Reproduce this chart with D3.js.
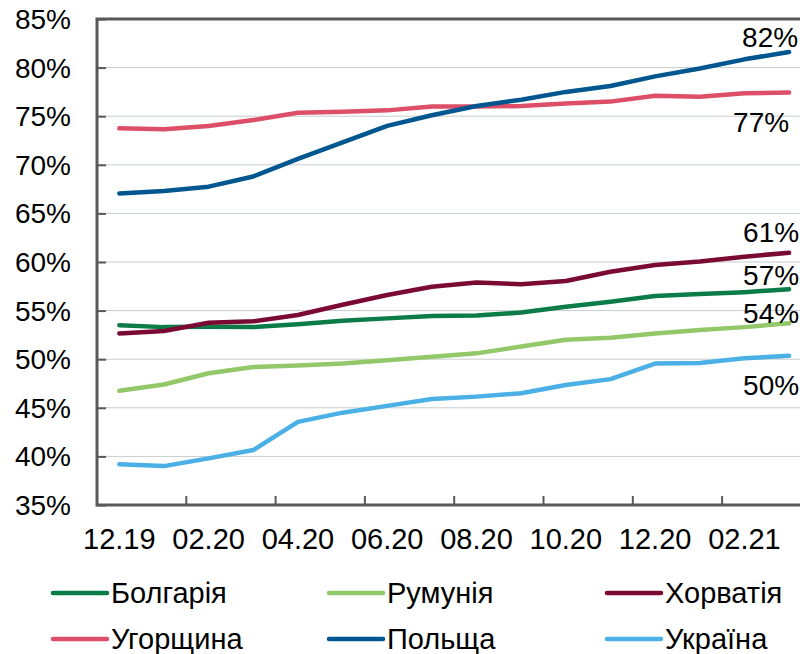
<!DOCTYPE html>
<html>
<head>
<meta charset="utf-8">
<script src="https://cdn.jsdelivr.net/npm/d3@7"></script>
<style>
  body { margin: 0; background: #fff; }
  text { font-family: "Liberation Sans", Arial, sans-serif; fill: #000; }
</style>
</head>
<body>
<div id="chart"></div>
<script>
const months = ["12.19", "01.20", "02.20", "03.20", "04.20", "05.20", "06.20", "07.20",
  "08.20", "09.20", "10.20", "11.20", "12.20", "01.21", "02.21", "03.21"];
const yTicks = [35, 40, 45, 50, 55, 60, 65, 70, 75, 80, 85];

const bulgaria = [53.5, 53.3, 53.35, 53.3, 53.6, 53.95, 54.2, 54.45, 54.5, 54.8, 55.4, 55.9, 56.5, 56.7, 56.9, 57.2];
const romania = [46.75, 47.4, 48.55, 49.2, 49.35, 49.55, 49.9, 50.25, 50.6, 51.3, 52.0, 52.2, 52.65, 53.0, 53.3, 53.7];
const croatia = [52.65, 52.9, 53.75, 53.9, 54.55, 55.6, 56.6, 57.45, 57.9, 57.7, 58.05, 59.0, 59.7, 60.05, 60.55, 60.95];
const hungary = [73.75, 73.65, 74.0, 74.6, 75.35, 75.45, 75.6, 76.0, 76.0, 76.05, 76.3, 76.5, 77.1, 77.0, 77.35, 77.45];
const poland = [67.05, 67.3, 67.75, 68.8, 70.6, 72.3, 74.0, 75.1, 76.05, 76.7, 77.5, 78.1, 79.1, 79.9, 80.85, 81.6];
const ukraine = [39.2, 39.0, 39.8, 40.65, 43.55, 44.5, 45.2, 45.9, 46.15, 46.5, 47.35, 47.95, 49.55, 49.6, 50.1, 50.35];

const seriesNames = ["Болгарія", "Румунія", "Хорватія", "Угорщина", "Польща", "Україна"];
const seriesValues = [bulgaria, romania, croatia, hungary, poland, ukraine];

// colours and end-label placement (offset from the last point)
const styles = [
  { color: "#0b7b47", dx: -46, dy: -4 },
  { color: "#93c86a", dx: -46, dy: 0 },
  { color: "#7a0a33", dx: -46, dy: -11 },
  { color: "#dd4e68", dx: -56, dy: 40 },
  { color: "#00568f", dx: -47, dy: -5 },
  { color: "#4ab0e5", dx: -46, dy: 39 }
];

const width = 800, height = 654;
const margin = { top: 19, left: 97, bottom: 505 };
const step = 44.65;

const svg = d3.select("#chart").append("svg")
  .attr("width", width)
  .attr("height", height);

const x = d3.scaleBand()
  .domain(months)
  .range([margin.left, margin.left + step * months.length])
  .padding(0);

const y = d3.scaleLinear()
  .domain([35, 85])
  .range([margin.bottom, margin.top]);

const cx = d => x(d) + x.bandwidth() / 2;

// gridlines
svg.append("g")
  .selectAll("line")
  .data(yTicks.slice(1, -1))
  .join("line")
  .attr("x1", margin.left)
  .attr("x2", width)
  .attr("y1", d => y(d))
  .attr("y2", d => y(d))
  .attr("stroke", "#c8cccc")
  .attr("stroke-width", 1);

// y axis
const yAxis = svg.append("g")
  .attr("transform", `translate(${margin.left},0)`)
  .call(d3.axisRight(y).tickValues(yTicks).tickSize(9).tickFormat(""));
yAxis.select(".domain").remove();
yAxis.selectAll("line").attr("stroke", "#595959").attr("stroke-width", 2);

svg.append("g")
  .selectAll("text")
  .data(yTicks)
  .join("text")
  .attr("x", 71)
  .attr("y", d => y(d) + 10)
  .attr("text-anchor", "end")
  .style("font-size", "28px")
  .text(d => d + "%");

// x axis ticks at every second band boundary
const tickMonths = months.filter((d, i) => i % 2 === 0);
svg.append("g")
  .selectAll("line")
  .data(tickMonths.slice(1))
  .join("line")
  .attr("x1", d => x(d))
  .attr("x2", d => x(d))
  .attr("y1", margin.bottom - 9)
  .attr("y2", margin.bottom)
  .attr("stroke", "#595959")
  .attr("stroke-width", 2);

svg.append("g")
  .selectAll("text")
  .data(tickMonths)
  .join("text")
  .attr("x", d => cx(d))
  .attr("y", 549)
  .attr("text-anchor", "middle")
  .style("font-size", "29px")
  .text(d => d);

// frame: left, bottom, top
svg.append("path")
  .attr("d", `M${width},${margin.top}H${margin.left}V${margin.bottom}H${width}`)
  .attr("fill", "none")
  .attr("stroke", "#595959")
  .attr("stroke-width", 3);

// lines
const line = d3.line()
  .x((d, i) => cx(months[i]))
  .y(d => y(d));

svg.append("g")
  .selectAll("path")
  .data(seriesValues)
  .join("path")
  .attr("d", d => line(d))
  .attr("fill", "none")
  .attr("stroke", (d, i) => styles[i].color)
  .attr("stroke-width", 4.5)
  .attr("stroke-linecap", "round")
  .attr("stroke-linejoin", "round");

// end labels
const last = months[months.length - 1];
svg.append("g")
  .selectAll("text")
  .data(seriesValues)
  .join("text")
  .attr("x", (d, i) => cx(last) + styles[i].dx)
  .attr("y", (d, i) => y(d[d.length - 1]) + styles[i].dy)
  .style("font-size", "28px")
  .text(d => Math.round(d[d.length - 1]) + "%");

// legend
const legendCols = [53, 329, 607];
const legendRows = [593, 639];
const legend = svg.append("g")
  .selectAll("g")
  .data(seriesNames)
  .join("g")
  .attr("transform", (d, i) => `translate(${legendCols[i % 3]},${legendRows[Math.floor(i / 3)]})`);

legend.append("line")
  .attr("x1", 0)
  .attr("x2", 54)
  .attr("stroke", (d, i) => styles[i].color)
  .attr("stroke-width", 4.5)
  .attr("stroke-linecap", "round");

legend.append("text")
  .attr("x", 58)
  .attr("y", 10)
  .style("font-size", "29px")
  .text(d => d);
</script>
</body>
</html>
